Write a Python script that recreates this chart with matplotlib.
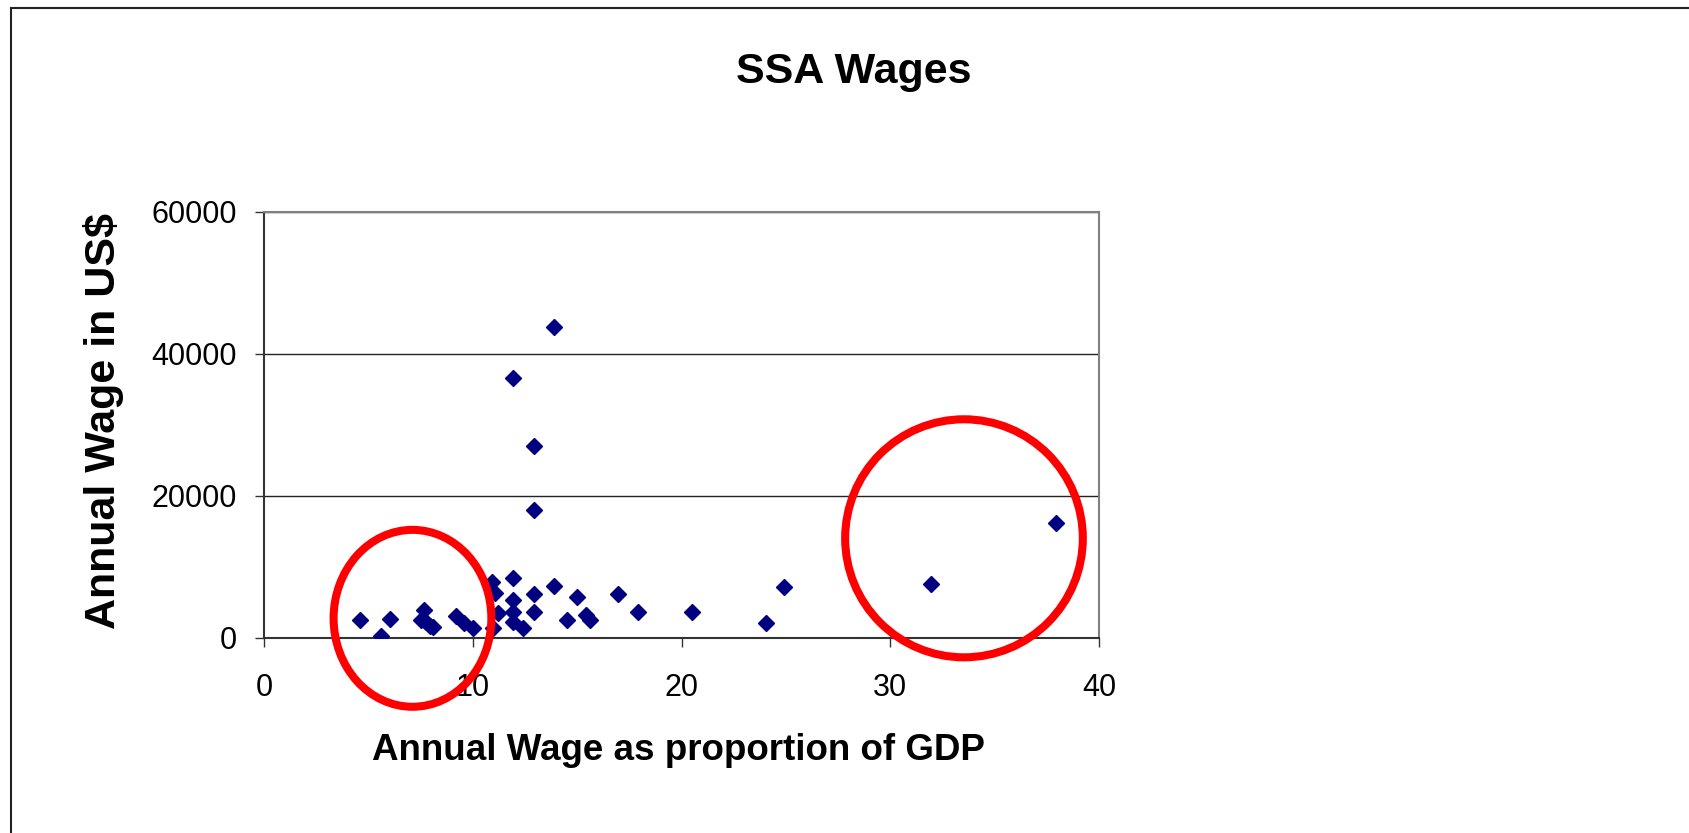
import matplotlib.pyplot as plt
from matplotlib.patches import Ellipse, Rectangle

plt.rcParams['font.family'] = ['Liberation Sans', 'DejaVu Sans']

# wage as share of GDP (x) vs annual wage in US$ (y)
gdp_share = [4.6, 5.6, 6.0, 7.65, 7.5, 7.75, 7.95, 8.1, 9.2, 9.55, 10.0,
             10.93, 11.04, 11.2, 10.96, 11.91, 11.91, 11.91, 11.91, 12.39,
             12.9, 12.9, 13.9, 14.5, 15.0, 15.43, 15.63, 16.94, 17.9, 20.5,
             24.05, 24.9, 31.95, 37.95, 13.89, 11.93, 12.9, 12.9]
annual_wage = [2530, 280, 2630, 3900, 2600, 2300, 1700, 1500, 3100, 2070, 1360,
               7900, 6290, 3480, 1360, 8400, 5350, 3700, 2300, 1360,
               6190, 3620, 7320, 2530, 5810, 3240, 2530, 6190, 3620, 3620,
               2150, 7220, 7550, 16140, 43800, 36600, 26980, 18020]

x_ticks = [0, 10, 20, 30, 40]
y_ticks = [0, 20000, 40000, 60000]

# highlight circles: (center x, center y, width, height) in data units
highlights = [(7.1, 2770, 7.56, 24900), (33.53, 14030, 11.39, 33500)]

fig = plt.figure(figsize=(16.9, 8.33), dpi=100)
ax = fig.add_axes([0.1564, 0.2341, 0.4939, 0.5118])

ax.plot(gdp_share, annual_wage, linestyle='none', marker='D', ms=8.6,
        color='#000080', mec='#000080', zorder=3)

ax.set_xlim(0, 40)
ax.set_ylim(0, 60000)
ax.set_xticks(x_ticks)
ax.set_yticks(y_ticks)
ax.tick_params(axis='both', direction='out', length=6.5, width=1,
               labelsize=22, color='#333333')
ax.tick_params(axis='x', pad=19)
ax.tick_params(axis='y', pad=13)
ax.yaxis.grid(True, color='#222222', linewidth=1)
ax.set_axisbelow(True)

for side in ['left', 'bottom']:
    ax.spines[side].set_color('#333333')
    ax.spines[side].set_linewidth(1.5)
for side in ['top', 'right']:
    ax.spines[side].set_color('#808080')
    ax.spines[side].set_linewidth(1.5)

for cx, cy, w, h in highlights:
    ax.add_patch(Ellipse((cx, cy), w, h, fill=False, edgecolor='red',
                         linewidth=5.8, clip_on=False, zorder=4))

fig.text(854 / 1690, 1 - 82.5 / 833, 'SSA Wages', ha='center', va='baseline',
         fontsize=31, fontweight='bold')
fig.text(678 / 1690, 1 - 760 / 833, 'Annual Wage as proportion of GDP',
         ha='center', va='baseline', fontsize=26.5, fontweight='bold')
fig.text(115 / 1690, 1 - 421 / 833, 'Annual Wage in US$', ha='center',
         va='baseline', rotation=90, rotation_mode='anchor',
         fontsize=31, fontweight='bold')

# outer chart border (right and bottom edges fall outside the image)
fig.patches.append(Rectangle((11 / 1690, -0.05), 1.1, 1 - 7.5 / 833 + 0.05,
                             transform=fig.transFigure, fill=False,
                             edgecolor='#222222', linewidth=1.5))

fig.savefig('out.png', dpi=100)
